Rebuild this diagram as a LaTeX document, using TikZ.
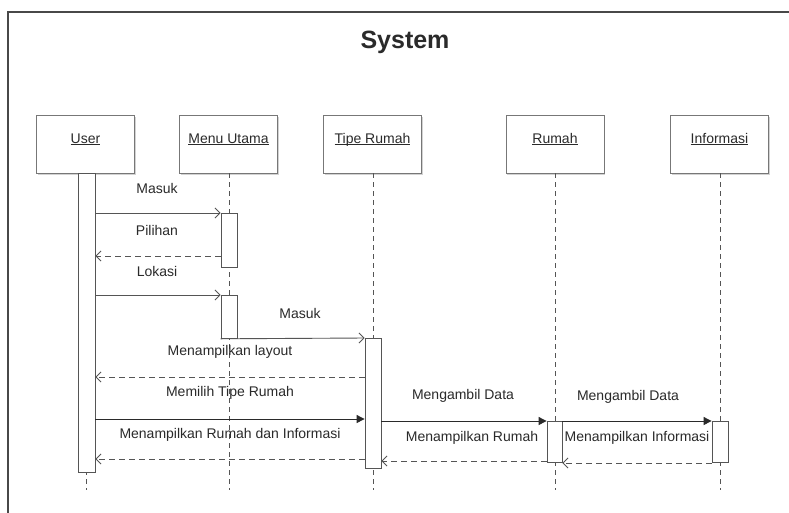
\documentclass[tikz,border=0pt]{standalone}
\usepackage{fontspec}
\setmainfont{Liberation Sans}
\usetikzlibrary{arrows.meta,shadows}
\definecolor{ink}{HTML}{2A2A2A}
\definecolor{edge}{HTML}{555555}
\newcommand{\roletitle}[1]{\underline{\smash{#1}}}
\tikzset{
  lifebox/.style={draw=edge!80, line width=0.9pt, fill=white, minimum width=98pt,
    minimum height=58pt, inner sep=0pt, font=\fontsize{14}{16}\selectfont, text=ink,
    drop shadow={shadow xshift=1.2pt, shadow yshift=-1.6pt, fill=black!35}},
  actbar/.style={draw=edge, line width=0.8pt, fill=white, minimum width=16pt, inner sep=0pt, anchor=north},
  lifeline/.style={draw=edge, line width=0.7pt, dash pattern=on 5pt off 4pt},
  call/.style={draw=edge, line width=0.9pt, -{Straight Barb[length=5pt,width=10pt,line width=0.9pt]}},
  sync/.style={draw=ink, line width=0.9pt, -{Triangle[length=8pt,width=8pt]}},
  reply/.style={draw=edge, line width=0.8pt, dash pattern=on 6pt off 4pt,
    -{Straight Barb[length=5pt,width=10pt,line width=0.9pt]}},
  msg/.style={font=\fontsize{14}{16}\selectfont, text=ink, inner sep=0pt},
}
\begin{document}
\begin{tikzpicture}[x=1pt,y=-1pt]
\useasboundingbox (0,0) rectangle (789,512);
\clip (0,0) rectangle (789,512);
\fill[white] (0,0) rectangle (789,512);

% system frame
\draw[edge!85!black, line width=1.5pt] (8,560) -- (8,12) -- (820,12);
\node[font=\fontsize{25}{28}\selectfont\bfseries, text=ink] (title) at (405,42) {System};

% participants
\node[lifebox] (user)  at (85.5,144)  {\roletitle{User}};
\node[lifebox] (menu)  at (228.5,144) {\roletitle{Menu Utama}};
\node[lifebox] (tipe)  at (372.5,144) {\roletitle{Tipe Rumah}};
\node[lifebox] (rumah) at (555,144)   {\roletitle{Rumah}};
\node[lifebox] (info)  at (719.5,144) {\roletitle{Informasi}};

% lifeline ends
\coordinate (userend)  at (86.5,490);
\coordinate (menuend)  at (229,490);
\coordinate (tipeend)  at (373,490);
\coordinate (rumahend) at (555,490);
\coordinate (infoend)  at (720,490);

% lifelines
\draw[lifeline] (user.south -| userend) -- (userend);
\draw[lifeline] (menu.south -| menuend) -- (menuend);
\draw[lifeline] (tipe.south -| tipeend) -- (tipeend);
\draw[lifeline] (rumah.south -| rumahend) -- (rumahend);
\draw[lifeline] (info.south -| infoend) -- (infoend);

% activation bars
\node[actbar, minimum width=17pt, minimum height=299pt] (ubar) at (86.5,173) {};
\node[actbar, minimum height=54pt] (mbara) at (229,213) {};
\node[actbar, minimum height=43pt] (mbarb) at (229,295) {};
\node[actbar, minimum height=130pt] (tbar) at (373,338) {};
\node[actbar, minimum width=15pt, minimum height=41pt] (rbar) at (554.5,421) {};
\node[actbar, minimum height=41pt] (ibar) at (720,421) {};

% message rows
\coordinate (r1) at (0,213);
\coordinate (r2) at (0,256);
\coordinate (r3) at (0,295);
\coordinate (r4) at (0,377);
\coordinate (r5) at (0,419);
\coordinate (r6) at (0,459);
\coordinate (r7) at (0,461);
\coordinate (r8) at (0,463);

% messages
\draw[call]  (ubar.east |- r1) -- (mbara.north west);
\draw[reply] (mbara.west |- r2) -- (ubar.east |- r2);
\draw[call]  (ubar.east |- r3) -- (mbarb.north west);
\draw[call]  (mbarb.south west) -- (tbar.north west);
\draw[reply] (tbar.west |- r4) -- (ubar.east |- r4);
\draw[sync]  (ubar.east |- r5) -- (tbar.west |- r5);
\draw[reply] (tbar.west |- r6) -- (ubar.east |- r6);
\draw[sync]  (tbar.east |- rbar.north) -- (rbar.north west);
\draw[sync]  (rbar.north east) -- (ibar.north west);
\draw[reply] (rbar.west |- r7) -- (tbar.east |- r7);
\draw[reply] (ibar.west |- r8) -- (rbar.east |- r8);

% message labels
\node[msg] (l1)  at (157,188) {Masuk};
\node[msg] (l2)  at (157,230) {Pilihan};
\node[msg] (l3)  at (157,271) {Lokasi};
\node[msg] (l4)  at (300,313) {Masuk};
\node[msg] (l5)  at (230,352) {Menampilkan layout};
\node[msg] (l6)  at (230,393) {Memilih Tipe Rumah};
\node[msg] (l7)  at (230,435) {Menampilkan Rumah dan Informasi};
\node[msg] (l8)  at (463,396) {Mengambil Data};
\node[msg] (l9)  at (628,397) {Mengambil Data};
\node[msg] (l10) at (472,438) {Menampilkan Rumah};
\node[msg] (l11) at (637,438) {Menampilkan Informasi};
\end{tikzpicture}
\end{document}
